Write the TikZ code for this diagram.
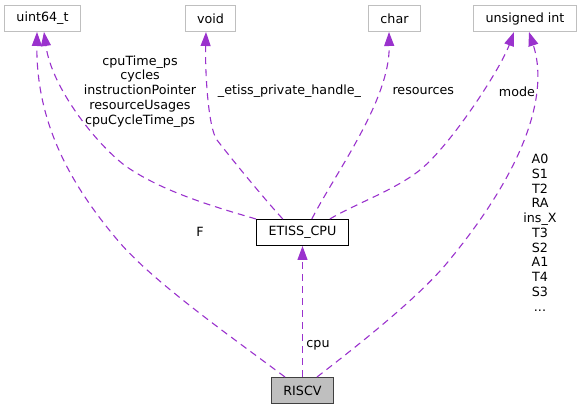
\documentclass[tikz,border=0pt]{standalone}
\usepackage{fontspec}
\setmainfont{DejaVu Sans}
\usetikzlibrary{arrows.meta,positioning}
\newcommand\dgfont{\fontsize{12.7}{14.75}\selectfont}
\definecolor{edgec}{HTML}{9A32CD}
\definecolor{boxgray}{HTML}{BFBFBF}
\definecolor{boxdark}{HTML}{404040}

\begin{document}
\begin{tikzpicture}[x=1pt,y=-1pt,
		cls/.style={draw, rectangle, line width=1pt, minimum height=26pt, inner xsep=12pt, inner ysep=0pt, font=\dgfont},
		ext/.style={cls, draw=boxgray},
		lbl/.style={font=\dgfont, align=center, inner sep=0pt},
		dep/.style={draw=edgec, line width=1.1pt, dash pattern=on 7pt off 5pt, -{Triangle[length=14pt,width=10pt,fill=edgec]}}]
		\useasboundingbox (0,0) rectangle (582,409);

		% classes
		\node[ext] at (42.5,18.5) (uint) {uint64\_t};
		\node[ext] at (210.5,18.5) (void) {void};
		\node[ext] at (394.5,18.5) (char) {char};
		\node[ext] at (525,18.5) (uns) {unsigned int};
		\node[cls, draw=boxdark, fill=boxgray] at (302.5,390.5) (riscv) {RISCV};
		\node[cls, draw=black, above=131pt of riscv] (etiss) {ETISS\_CPU};

		% members
		\draw[dep] ([xshift=-17.5pt]riscv.north) .. controls (230,336) and (155,283) .. (120,243)
			.. controls (80,196) and (36,132) .. ([xshift=-5.5pt]uint.south);
		\draw[dep] (etiss.north west) .. controls (211,206) and (162,191) .. (127,167)
			.. controls (100,148) and (52,90) .. ([xshift=1.5pt]uint.south);
		\draw[dep] ([xshift=-19.7pt]etiss.north) .. controls (266,201) and (230,157) .. (217,140)
			.. controls (208,128) and (205,70) .. ([xshift=-4.5pt]void.south);
		\draw[dep] ([xshift=9.3pt]etiss.north) .. controls (336,172) and (390,100) .. ([xshift=-5.5pt]char.south);
		\draw[dep] ([xshift=27.3pt]etiss.north) .. controls (355,204) and (395,190) .. (420,170)
			.. controls (450,146) and (500,70) .. ([xshift=-11pt]uns.south);
		\draw[dep] ([xshift=14.5pt]riscv.north) .. controls (357,346) and (417,299) .. (447,263)
			.. controls (530,163) and (548,90) .. ([xshift=4pt]uns.south);
		\draw[dep] (riscv) -- (etiss);

		% edge labels
		\node[lbl] at (200,232) (lF) {F};
		\node[lbl] at (140,91.4) (lmem) {cpuTime\_ps\\cycles\\instructionPointer\\resourceUsages\\cpuCycleTime\_ps};
		\node[lbl] at (289.5,91) (lhandle) {\_etiss\_private\_handle\_};
		\node[lbl] at (423.3,91) (lres) {resources};
		\node[lbl] at (517,92) (lmode) {mode};
		\node[lbl] at (540,232.7) (lregs) {A0\\S1\\T2\\RA\\ins\_X\\T3\\S2\\A1\\T4\\S3\\...};
		\node[lbl] at (318,345) (lcpu) {cpu};
\end{tikzpicture}
\end{document}
